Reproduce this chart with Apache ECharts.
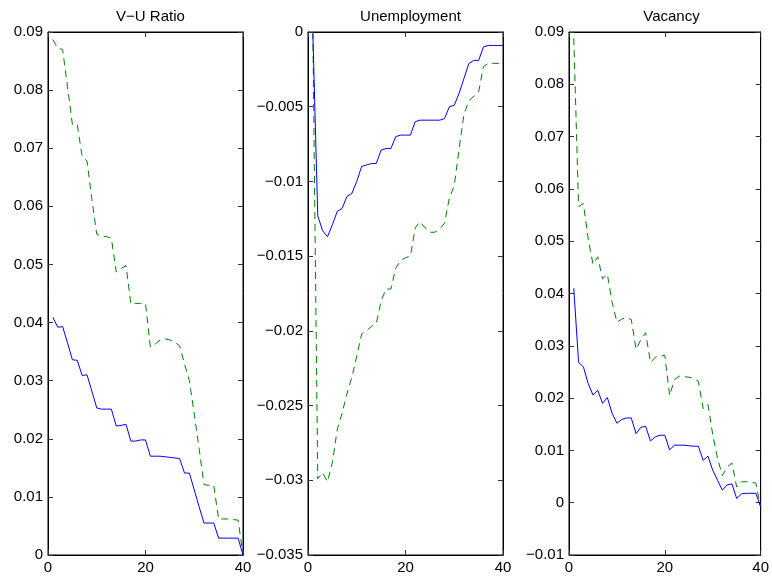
<!DOCTYPE html>
<html>
<head>
<meta charset="utf-8">
<script src="https://cdn.jsdelivr.net/npm/echarts@6/dist/echarts.min.js"></script>
<style>
  html, body { margin: 0; padding: 0; background: #fff; }
  #main { width: 772px; height: 580px; }
</style>
</head>
<body>
<div id="main"></div>
<script>
// periods of the impulse responses
var periods = [1,2,3,4,5,6,7,8,9,10,11,12,13,14,15,16,17,18,19,20,
               21,22,23,24,25,26,27,28,29,30,31,32,33,34,35,36,37,38,39,40];

// V-U ratio
var vuSolid = [0.0409,0.0392,0.0393,0.0365,0.0336,0.0335,0.0309,0.0310,0.0282,0.0253,
               0.0251,0.0251,0.0251,0.0222,0.0223,0.0225,0.0196,0.0196,0.0198,0.0198,
               0.0170,0.0170,0.0170,0.0169,0.0168,0.0167,0.0166,0.0141,0.0141,0.0112,
               0.0083,0.0055,0.0055,0.0055,0.0029,0.0029,0.0029,0.0029,0.0029,0.0000];
var vuDashed = [0.0887,0.0872,0.0870,0.0806,0.0741,0.0741,0.0686,0.0678,0.0612,0.0552,
                0.0548,0.0548,0.0545,0.0487,0.0493,0.0498,0.0432,0.0433,0.0433,0.0433,
                0.0358,0.0363,0.0370,0.0372,0.0370,0.0366,0.0360,0.0329,0.0300,0.0243,
                0.0183,0.0121,0.0120,0.0120,0.0062,0.0062,0.0062,0.0061,0.0060,0.0000];

// Unemployment
var unSolid = [-0.0001,-0.0123,-0.0133,-0.0137,-0.0129,-0.0120,-0.0118,-0.0110,-0.0108,-0.0100,
               -0.0090,-0.0089,-0.0088,-0.0088,-0.0079,-0.0078,-0.0078,-0.0070,-0.0069,-0.0069,
               -0.0069,-0.0060,-0.0059,-0.0059,-0.0059,-0.0059,-0.0059,-0.0058,-0.0050,-0.0049,
               -0.0041,-0.0031,-0.0021,-0.0019,-0.0019,-0.0010,-0.0009,-0.0009,-0.0009,-0.0009];
var unDashed = [0.0000,-0.0299,-0.0295,-0.0301,-0.0288,-0.0266,-0.0255,-0.0242,-0.0231,-0.0217,
                -0.0202,-0.0200,-0.0197,-0.0195,-0.0180,-0.0172,-0.0172,-0.0158,-0.0153,-0.0151,
                -0.0150,-0.0131,-0.0127,-0.0131,-0.0134,-0.0134,-0.0132,-0.0128,-0.0111,-0.0103,
                -0.0078,-0.0055,-0.0046,-0.0043,-0.0040,-0.0023,-0.0021,-0.0021,-0.0021,-0.0021];

// Vacancy
var vaSolid = [0.0410,0.0268,0.0260,0.0228,0.0206,0.0215,0.0190,0.0201,0.0171,0.0152,
               0.0159,0.0162,0.0162,0.0132,0.0144,0.0146,0.0118,0.0126,0.0129,0.0129,
               0.0101,0.0110,0.0110,0.0110,0.0109,0.0108,0.0108,0.0081,0.0089,0.0062,
               0.0043,0.0024,0.0034,0.0036,0.0008,0.0017,0.0018,0.0018,0.0018,-0.0008];
var vaDashed = [0.0888,0.0566,0.0572,0.0505,0.0456,0.0470,0.0428,0.0437,0.0383,0.0345,
                0.0351,0.0354,0.0350,0.0293,0.0312,0.0325,0.0268,0.0278,0.0280,0.0282,
                0.0205,0.0235,0.0242,0.0241,0.0240,0.0238,0.0232,0.0180,0.0188,0.0130,
                0.0085,0.0052,0.0068,0.0076,0.0030,0.0040,0.0040,0.0040,0.0037,-0.0008];

var titles = ['V\u2212U Ratio', 'Unemployment', 'Vacancy'];
var yMins = [0, -0.035, -0.01];
var yMaxs = [0.09, 0, 0.09];
var yStep = [0.01, 0.005, 0.01];

var panelLeft = [48, 308, 569];
var panelWidth = 195;
var fontFam = '"Liberation Sans", Arial, Helvetica, sans-serif';

function pairs(ys) {
  var out = [];
  for (var i = 0; i < periods.length; i++) out.push([periods[i], ys[i]]);
  return out;
}

function fmt(v) {
  var s = String(parseFloat(v.toFixed(4)));
  return s.replace('-', '\u2212');
}

var grids = [], xAxes = [], yAxes = [], titleList = [], seriesList = [];
var solids = [vuSolid, unSolid, vaSolid];
var dashes = [vuDashed, unDashed, vaDashed];

var lineSt = { show: true, onZero: false, lineStyle: { color: '#000', width: 1 } };
var tickSt = { show: true, inside: true, length: 5, lineStyle: { color: '#333' } };

for (var p = 0; p < 3; p++) {
  grids.push({ left: panelLeft[p], width: panelWidth, top: 32, height: 523,
               show: true, borderColor: '#000', borderWidth: 1, backgroundColor: '#fff' });
  titleList.push({ text: titles[p], left: panelLeft[p] + panelWidth / 2, top: 4, textAlign: 'center',
                   textStyle: { fontFamily: fontFam, fontSize: 15, fontWeight: 'normal', color: '#000' } });
  // bottom / left axes with labels
  xAxes.push({ type: 'value', gridIndex: p, min: 0, max: 40, interval: 20, position: 'bottom',
               axisLine: lineSt, axisTick: tickSt,
               axisLabel: { fontFamily: fontFam, fontSize: 15, color: '#000', margin: 5 },
               splitLine: { show: false } });
  yAxes.push({ type: 'value', gridIndex: p, min: yMins[p], max: yMaxs[p], interval: yStep[p], position: 'left',
               axisLine: lineSt, axisTick: tickSt,
               axisLabel: { fontFamily: fontFam, fontSize: 15, color: '#000', margin: 5, formatter: fmt },
               splitLine: { show: false } });
  // top / right axes, ticks only (box style)
  xAxes.push({ type: 'value', gridIndex: p, min: 0, max: 40, interval: 20, position: 'top',
               axisLine: lineSt, axisTick: tickSt,
               axisLabel: { show: false }, splitLine: { show: false } });
  yAxes.push({ type: 'value', gridIndex: p, min: yMins[p], max: yMaxs[p], interval: yStep[p], position: 'right',
               axisLine: lineSt, axisTick: tickSt,
               axisLabel: { show: false }, splitLine: { show: false } });

  seriesList.push({ type: 'line', xAxisIndex: p * 2, yAxisIndex: p * 2, data: pairs(dashes[p]),
                    showSymbol: false, silent: true, clip: true,
                    lineStyle: { color: '#008000', width: 1, type: [7, 5] } });
  seriesList.push({ type: 'line', xAxisIndex: p * 2, yAxisIndex: p * 2, data: pairs(solids[p]),
                    showSymbol: false, silent: true, clip: true,
                    lineStyle: { color: '#0000ff', width: 1 } });
}

var chart = echarts.init(document.getElementById('main'), null, { renderer: 'canvas' });
var option = {
  animation: false,
  backgroundColor: '#fff',
  title: titleList,
  grid: grids,
  xAxis: xAxes,
  yAxis: yAxes,
  series: seriesList
};
chart.setOption(option);
</script>
</body>
</html>
